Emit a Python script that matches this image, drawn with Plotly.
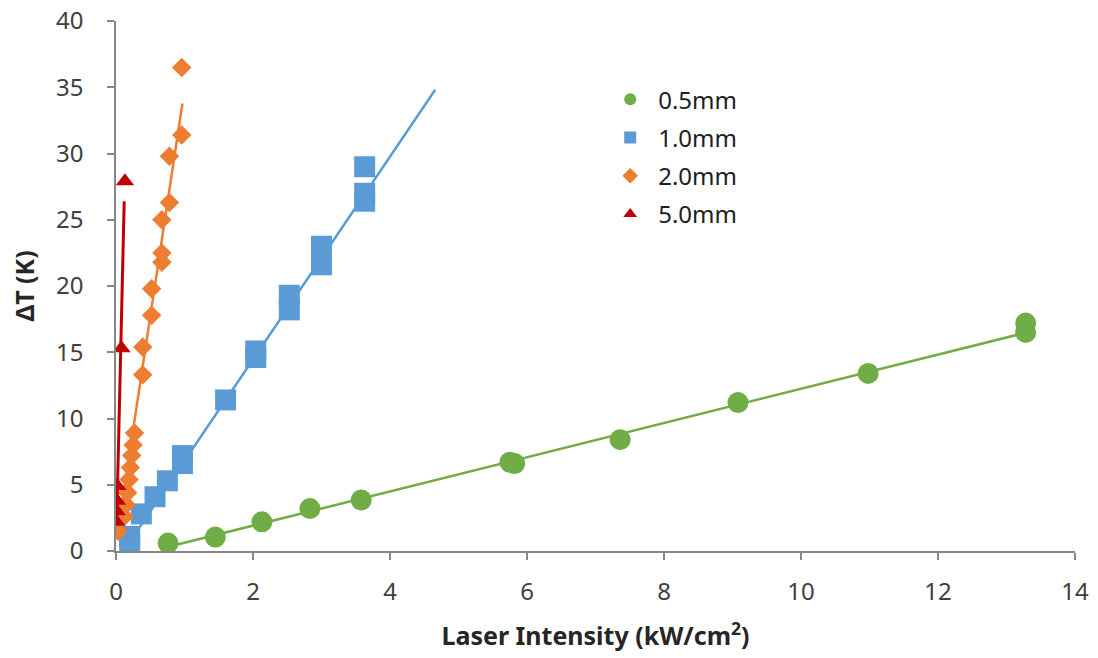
import numpy as np
import plotly.graph_objects as go

# Measured points: laser intensity (kW/cm²) vs temperature rise ΔT (K)
x_05 = [0.76, 1.45, 2.13, 2.83, 3.58, 5.75, 5.82, 7.36, 9.08, 10.98, 13.28, 13.28]
y_05 = [0.6, 1.05, 2.2, 3.2, 3.85, 6.7, 6.6, 8.4, 11.2, 13.4, 17.2, 16.5]

x_10 = [0.2, 0.2, 0.37, 0.57, 0.75, 0.97, 0.97, 1.6, 2.04, 2.04, 2.53, 2.53,
        3.0, 3.0, 3.63, 3.63, 3.63]
y_10 = [0.5, 1.1, 2.8, 4.1, 5.3, 6.6, 7.2, 11.4, 14.6, 15.1, 18.2, 19.3,
        21.6, 23.0, 26.4, 27.0, 29.0]

x_20 = [0.03, 0.12, 0.15, 0.17, 0.19, 0.21, 0.23, 0.25, 0.27, 0.39, 0.39,
        0.52, 0.52, 0.67, 0.67, 0.67, 0.78, 0.78, 0.96, 0.96]
y_20 = [1.5, 2.6, 3.5, 4.4, 5.4, 6.3, 7.2, 8.0, 8.9, 13.3, 15.4,
        17.8, 19.8, 21.8, 22.5, 25.0, 26.3, 29.8, 31.4, 36.5]

x_50 = [0.005, 0.01, 0.015, 0.02, 0.08, 0.13]
y_50 = [2.2, 3.0, 3.8, 4.9, 15.3, 27.9]

# Linear trend lines: x extent, slope, intercept
fit_x_05, slope_05, icpt_05 = [0.75, 13.3], 1.291, -0.668
fit_x_10, slope_10, icpt_10 = [0.18, 4.66], 7.65, -0.84
fit_x_20, slope_20, icpt_20 = [0.02, 0.97], 34.2, 0.6
fit_x_50, slope_50, icpt_50 = [0.01, 0.12], 220.0, 0.0

names = ["0.5mm", "1.0mm", "2.0mm", "5.0mm"]
colors = ["#70AD47", "#5B9BD5", "#ED7D31", "#C00000"]
symbols = ["circle", "square", "diamond", "triangle-up"]
sizes = [21, 21, 15, 16]
line_widths = [2.5, 2.5, 2.5, 3]

series = [
    (x_05, y_05, fit_x_05, slope_05, icpt_05),
    (x_10, y_10, fit_x_10, slope_10, icpt_10),
    (x_20, y_20, fit_x_20, slope_20, icpt_20),
    (x_50, y_50, fit_x_50, slope_50, icpt_50),
]

fig = go.Figure()
for i, (xs, ys, fx, m, b) in enumerate(series):
    fx = np.array(fx)
    fig.add_trace(go.Scatter(
        x=fx, y=m * fx + b, mode="lines",
        line=dict(color=colors[i], width=line_widths[i]),
        showlegend=False, legendgroup=names[i], hoverinfo="skip",
    ))
    fig.add_trace(go.Scatter(
        x=xs, y=ys, mode="markers", name=names[i], legendgroup=names[i],
        marker=dict(color=colors[i], symbol=symbols[i], size=sizes[i],
                    line=dict(width=0)),
    ))

family = "Noto Sans, Open Sans, sans-serif"
axis_color = "#868686"
tick_font = dict(family=family, size=24, color="#404040")
title_font = dict(family=family, size=25, color="#262626")

fig.update_layout(
    width=1098, height=658,
    margin=dict(l=116, r=23, t=21, b=107),
    paper_bgcolor="white", plot_bgcolor="white",
    font=dict(family=family),
    xaxis=dict(
        range=[0, 14], dtick=2, tick0=0, showgrid=False, zeroline=False,
        showline=True, linecolor=axis_color, linewidth=1.5, automargin=False,
        ticks="outside", ticklen=7, tickcolor=axis_color, tickwidth=1.5,
        tickfont=tick_font, ticklabelstandoff=11,
        title=dict(text="<b>Laser Intensity (kW/cm<sup>2</sup>)</b>",
                   font=title_font, standoff=22),
    ),
    yaxis=dict(
        range=[0, 40], dtick=5, tick0=0, showgrid=False, zeroline=False,
        showline=True, linecolor=axis_color, linewidth=1.5, automargin=False,
        ticks="outside", ticklen=7, tickcolor=axis_color, tickwidth=1.5,
        tickfont=tick_font, ticklabelstandoff=19,
        title=dict(text="<b>ΔT (K)</b>", font=title_font, standoff=14),
    ),
    legend=dict(
        x=0.507, y=0.894, xanchor="left", yanchor="top",
        bgcolor="rgba(0,0,0,0)", borderwidth=0,
        font=dict(family=family, size=24, color="#202020"),
        traceorder="grouped", tracegroupgap=4, itemsizing="constant",
        itemwidth=46,
    ),
)

fig.write_html("out.html")
